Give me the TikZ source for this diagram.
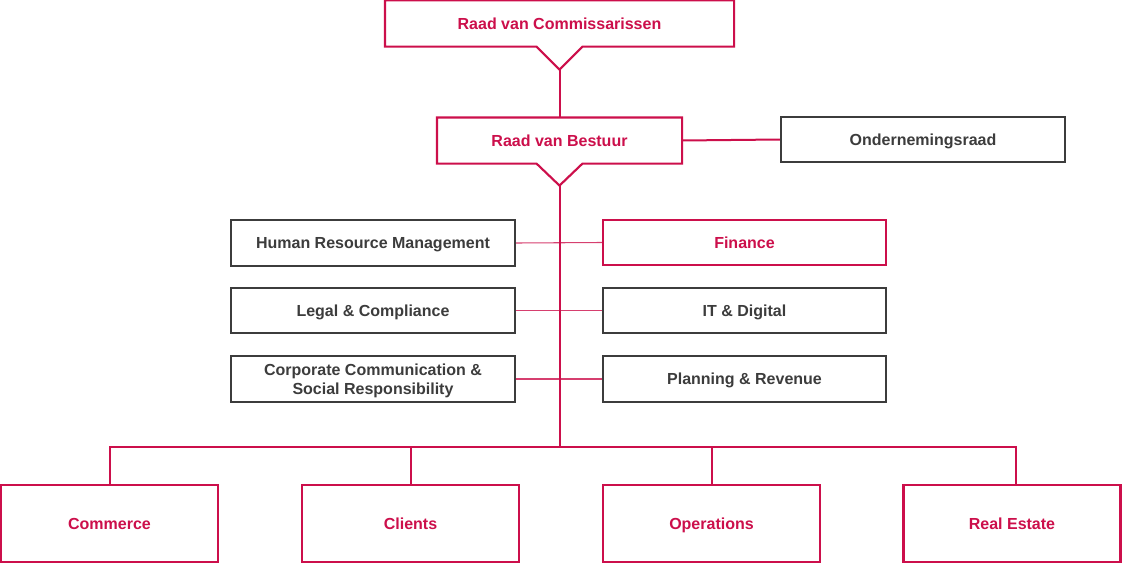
\documentclass[tikz,border=0pt]{standalone}
\usepackage{fontspec}
\setmainfont{Liberation Sans}
\usetikzlibrary{calc}
\definecolor{brand}{HTML}{CC0F4B}
\definecolor{dgray}{HTML}{3C3C3C}
\begin{document}
\begin{tikzpicture}[x=0.75pt,y=-0.75pt,
  base/.style={rectangle,inner sep=0pt,align=center,font=\bfseries\fontsize{12}{14}\selectfont,text depth=-0.17em,line width=1.6pt,fill=white},
  pinkbox/.style={base,draw=brand,text=brand},
  graybox/.style={base,draw=dgray,text=dgray},
  notchbox/.style={base,draw=none,text=brand},
  mainline/.style={draw=brand,line width=1.5pt},
  sideline/.style={draw=brand!80,line width=0.8pt}]
\useasboundingbox (0,0) rectangle (1122,564);

% top boxes
\node[notchbox,minimum width=347*0.75pt,minimum height=44*0.75pt] (rvc) at (559.5,23.5) {Raad van Commissarissen};
\node[notchbox,minimum width=243*0.75pt,minimum height=44*0.75pt] (rvb) at (559.5,140.5) {Raad van Bestuur};
\node[graybox,minimum width=284*0.75pt,minimum height=45*0.75pt] (or) at (923,139.5) {Ondernemingsraad};

\coordinate (rvcTip) at ($(rvc.south)+(0,23)$);
\coordinate (rvbTip) at ($(rvb.south)+(0,22)$);
\draw[brand,line width=1.6pt,line join=miter]
  (rvc.north west) -- (rvc.north east) -- (rvc.south east) -- ($(rvc.south)+(23,0)$)
  -- (rvcTip) -- ($(rvc.south)+(-23,0)$) -- (rvc.south west) -- cycle;
\draw[brand,line width=1.6pt,line join=miter]
  (rvb.north west) -- (rvb.north east) -- (rvb.south east) -- ($(rvb.south)+(23,0)$)
  -- (rvbTip) -- ($(rvb.south)+(-23,0)$) -- (rvb.south west) -- cycle;

% staff boxes
\node[graybox,minimum width=284*0.75pt,minimum height=46*0.75pt] (hrm) at (373,243) {Human Resource Management};
\node[graybox,minimum width=284*0.75pt,minimum height=45*0.75pt] (leg) at (373,310.5) {Legal \& Compliance};
\node[graybox,minimum width=284*0.75pt,minimum height=46*0.75pt] (ccs) at (373,379) {Corporate Communication \&\\Social Responsibility};
\node[pinkbox,minimum width=283*0.75pt,minimum height=45*0.75pt] (fin) at (744.5,242.5) {Finance};
\node[graybox,minimum width=283*0.75pt,minimum height=45*0.75pt] (itd) at (744.5,310.5) {IT \& Digital};
\node[graybox,minimum width=283*0.75pt,minimum height=46*0.75pt] (plr) at (744.5,379) {Planning \& Revenue};

% side connectors (under the trunk)
\draw[sideline] (hrm.east) -- (fin.west);
\draw[sideline] (leg.east) -- (itd.west);
\draw[sideline] (ccs.east) -- (plr.west);

% bottom boxes
\node[pinkbox,minimum width=217*0.75pt,minimum height=77*0.75pt] (com) at (109.5,523.5) {Commerce};
\node[pinkbox,minimum width=217*0.75pt,minimum height=77*0.75pt] (cli) at (410.5,523.5) {Clients};
\node[pinkbox,minimum width=217*0.75pt,minimum height=77*0.75pt] (ops) at (711.5,523.5) {Operations};
\node[pinkbox,minimum width=217*0.75pt,minimum height=77*0.75pt] (res) at (1012,523.5) {Real Estate};

% connectors
\coordinate (busC) at (559.5,447);
\coordinate (busL) at (109.5,447);
\coordinate (busR) at (1016,447);
\draw[mainline] (rvcTip) -- (rvb.north);
\draw[mainline] (rvb.east) -- (or.west);
\draw[mainline] (rvbTip) -- (busC);
\draw[mainline,line join=miter] (com.north) -- (busL) -- (busR) -- (busR |- res.north);
\draw[mainline] (cli.north) -- (cli.north |- busL);
\draw[mainline] (ops.north) -- (ops.north |- busL);
\end{tikzpicture}
\end{document}
